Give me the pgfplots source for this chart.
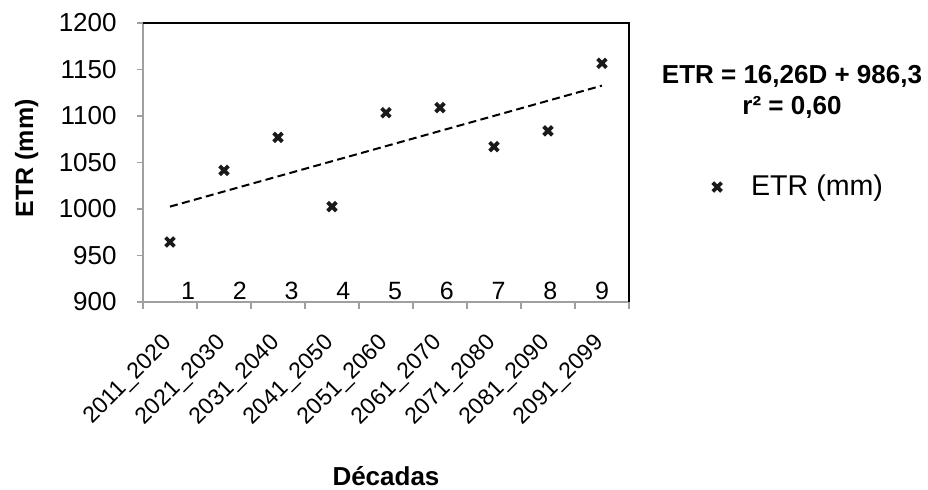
\documentclass[border=0pt]{standalone}
\usepackage{fontspec}
\setmainfont{Liberation Sans}
\usepackage{pgfplots}
\pgfplotsset{compat=1.18}
\definecolor{axgray}{HTML}{A0A0A0}
\definecolor{mk}{HTML}{1A1A1A}
\begin{document}
\begin{tikzpicture}[x=1pt,y=1pt]
\path[use as bounding box] (0,0) rectangle (464,245);
\begin{axis}[
  at={(71.5pt,94pt)}, anchor=south west,
  scale only axis, width=243pt, height=139.5pt,
  xmin=0.5, xmax=9.5, ymin=900, ymax=1200,
  ytick={900,950,...,1200},
  xtick={1,...,9},
  xticklabels={2011\_2020,2021\_2030,2031\_2040,2041\_2050,2051\_2060,2061\_2070,2071\_2080,2081\_2090,2091\_2099},
  minor xtick={0.5,1.5,...,9.5},
  major x tick style={draw=none},
  tick align=outside, tick pos=left,
  major tick length=3pt, minor tick length=3.5pt,
  axis line style={axgray, line width=0.8pt},
  tick style={axgray, line width=0.8pt},
  font=\fontsize{12.5}{14}\selectfont,
  /pgf/number format/assume math mode=true,
  /pgf/number format/1000 sep={},
  yticklabel style={font=\fontsize{13}{15}\selectfont, anchor=east, inner sep=0pt, xshift=-10pt},
  xticklabel style={font=\fontsize{11.5}{13}\selectfont, xshift=-4.5pt, yshift=1.5pt, rotate=45, anchor=north east, inner sep=0pt},
  xticklabel shift=13.5pt,
  xlabel={Décadas},
  xlabel style={font=\fontsize{13}{15}\selectfont\bfseries, at={(axis description cs:0.5,-0.6595)}, anchor=base},
  ylabel={ETR (mm)},
  ylabel style={font=\fontsize{12.5}{14}\selectfont\bfseries, at={(axis description cs:-0.2263,0.515)}, anchor=base},
  legend image code/.code={\path[draw=none,fill=none] (0pt,-2pt) rectangle (27.5pt,2pt); \draw[#1] plot coordinates {(12.5pt,0pt)};},
  legend style={draw=none, fill=none, at={(axis description cs:1.1292,0.412)}, anchor=west, inner sep=0pt,
    font=\fontsize{14.3}{16}\selectfont},
  clip=false,
]
\addplot[only marks, mark=x, mark size=3.1pt, color=mk, line width=1.9pt]
  coordinates {(1,964.5) (2,1041.5) (3,1077) (4,1002.5) (5,1103.5) (6,1109) (7,1067) (8,1084) (9,1156.7)};
\addlegendentry{ETR (mm)}
\addplot[forget plot, black, line width=1pt, dash pattern=on 4pt off 2.2pt]
  coordinates {(1,1002.56) (9,1132.64)};
\draw[black, line width=1pt] (rel axis cs:0,1) -- (rel axis cs:1,1) -- (rel axis cs:1,0);
\node[anchor=base] at (axis cs:1.333,903.2) {1};
\node[anchor=base] at (axis cs:2.292,903.2) {2};
\node[anchor=base] at (axis cs:3.250,903.2) {3};
\node[anchor=base] at (axis cs:4.208,903.2) {4};
\node[anchor=base] at (axis cs:5.167,903.2) {5};
\node[anchor=base] at (axis cs:6.125,903.2) {6};
\node[anchor=base] at (axis cs:7.083,903.2) {7};
\node[anchor=base] at (axis cs:8.042,903.2) {8};
\node[anchor=base] at (axis cs:9.000,903.2) {9};
\end{axis}
\node[font=\fontsize{13}{15}\selectfont\bfseries, anchor=base] at (396,203) {ETR = 16,26D + 986,3};
\node[font=\fontsize{13}{15}\selectfont\bfseries, anchor=base] at (396,187.5) {r² = 0,60};
\end{tikzpicture}
\end{document}
